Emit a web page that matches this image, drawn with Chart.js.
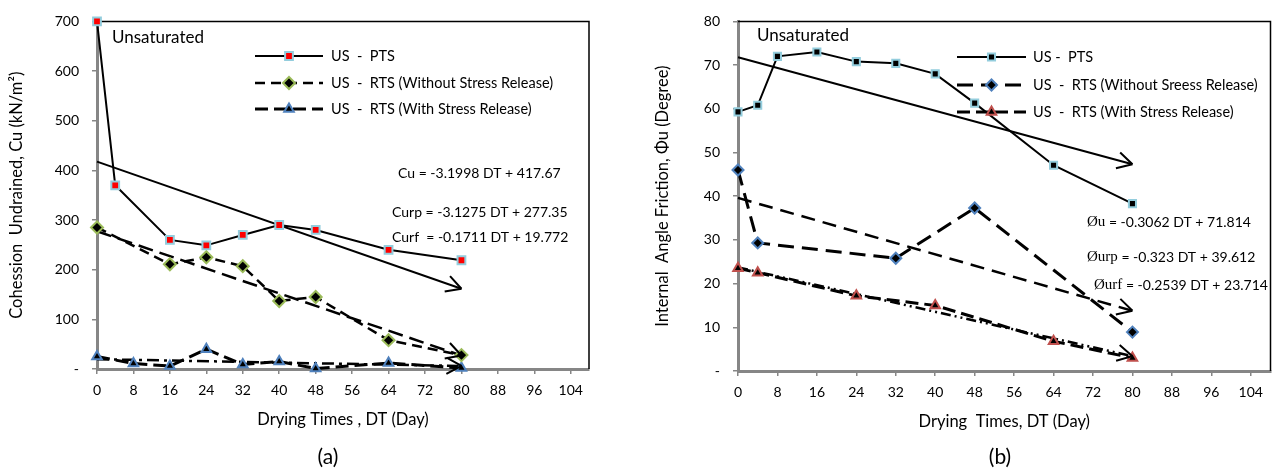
<!DOCTYPE html>
<html>
<head>
<meta charset="utf-8">
<script src="https://cdn.jsdelivr.net/npm/chart.js@4.4.1/dist/chart.umd.min.js"></script>
<style>
  body { margin: 0; background: #fff; }
  canvas { position: absolute; top: 0; }
</style>
</head>
<body>
<canvas id="cohesionChart" width="640" height="474" style="left:0"></canvas>
<canvas id="frictionChart" width="638" height="474" style="left:640px"></canvas>
<script>
"use strict";

// ---- panel (a): cohesion, kN/m2 ----
const cuPtsDays = [0, 4, 16, 24, 32, 40, 48, 64, 80];
const cuPts = [700, 370, 260, 249, 270, 290, 280, 240, 219];
const cuNoReleaseDays = [0, 16, 24, 32, 40, 48, 64, 80];
const cuNoRelease = [285, 211, 225, 207, 137, 145, 58, 28];
const cuReleaseDays = [0, 8, 16, 24, 32, 40, 48, 64, 80];
const cuRelease = [25, 11, 6, 40, 9, 15, 1, 12, 2];

// trend lines (values at DT 0 and DT 80)
const trendDays = [0, 80];
const cuTrendPts = [417.67, 161.69];
const cuTrendNoRelease = [277.35, 27.15];
const cuTrendRelease = [19.77, 6.08];

// ---- panel (b): friction angle, degree ----
const phiPtsDays = [0, 4, 8, 16, 24, 32, 40, 48, 64, 80];
const phiPts = [59.3, 60.8, 72, 73, 70.8, 70.4, 68, 61.3, 47.1, 38.3];
const phiNoReleaseDays = [0, 4, 32, 48, 80];
const phiNoRelease = [46, 29.3, 25.8, 37.3, 8.9];
const phiReleaseDays = [0, 4, 24, 40, 64, 80];
const phiRelease = [23.5, 22.5, 17.2, 15, 6.8, 3];

const phiTrendPts = [71.81, 47.32];
const phiTrendNoRelease = [39.61, 13.77];
const phiTrendRelease = [23.71, 3.40];

const dayTicks = [0, 8, 16, 24, 32, 40, 48, 56, 64, 72, 80, 88, 96, 104];

const FONT = 'Lato, "Open Sans", sans-serif';
const SERIF = '"Liberation Serif", "DejaVu Serif", serif';
const AXIS_GREY = '#868686';

Chart.defaults.font.family = FONT;
Chart.defaults.color = '#000';

function zip(xs, ys) {
    return xs.map((x, i) => ({ x: x, y: ys[i] }));
}

function marker(ctx, ds, x, y) {
    ctx.save();
    ctx.setLineDash([]);
    ctx.fillStyle = ds.pointBackgroundColor;
    ctx.strokeStyle = ds.pointBorderColor;
    ctx.lineWidth = ds.pointBorderWidth;
    Chart.helpers.drawPoint(ctx, {
        pointStyle: ds.pointStyle,
        radius: ds.pointRadius,
        rotation: 0,
        borderWidth: ds.pointBorderWidth
    }, x, y);
    ctx.restore();
}

// plot border, trend arrows, hand placed legend and notes
const panelDecor = {
    id: 'panelDecor',
    beforeDatasetsDraw(chart) {
        const { ctx, chartArea: a } = chart;
        ctx.save();
        ctx.strokeStyle = '#000';
        ctx.lineWidth = 1.5;
        ctx.beginPath();
        ctx.moveTo(a.left, a.top);
        ctx.lineTo(a.right, a.top);
        ctx.lineTo(a.right, a.bottom);
        ctx.stroke();
        ctx.restore();
    },
    afterDatasetsDraw(chart, args, opts) {
        const ctx = chart.ctx;
        chart.data.datasets.forEach((ds, i) => {
            if (!ds.arrow) return;
            const pts = chart.getDatasetMeta(i).data;
            const p1 = pts[pts.length - 1], p0 = pts[pts.length - 2];
            const ang = Math.atan2(p1.y - p0.y, p1.x - p0.x);
            ctx.save();
            ctx.strokeStyle = '#000';
            ctx.lineWidth = 2;
            ctx.beginPath();
            [-1, 1].forEach(s => {
                ctx.moveTo(p1.x - 17 * Math.cos(ang + s * 0.5), p1.y - 17 * Math.sin(ang + s * 0.5));
                ctx.lineTo(p1.x, p1.y);
            });
            ctx.stroke();
            ctx.restore();
        });

        // legend
        const lg = opts.legend;
        chart.data.datasets.filter(ds => !ds.arrow).forEach((ds, k) => {
            const y = lg.rows[k];
            ctx.save();
            ctx.strokeStyle = ds.borderColor;
            ctx.lineWidth = ds.borderWidth;
            ctx.setLineDash(ds.borderDash || []);
            ctx.beginPath();
            ctx.moveTo(lg.x1, y);
            ctx.lineTo(lg.x2, y);
            ctx.stroke();
            ctx.restore();
            marker(ctx, ds, (lg.x1 + lg.x2) / 2, y);
            ctx.save();
            ctx.font = '14.5px ' + FONT;
            ctx.fillStyle = '#000';
            ctx.textBaseline = 'middle';
            ctx.fillText(ds.label, lg.textX, y);
            ctx.restore();
        });

        // notes
        opts.notes.forEach(n => {
            ctx.save();
            ctx.fillStyle = '#000';
            ctx.textBaseline = 'middle';
            let x = n.x;
            const size = n.size || 14;
            const parts = n.parts || [{ t: n.text }];
            if (n.align === 'center') {
                ctx.font = size + 'px ' + FONT;
                x -= ctx.measureText(parts[0].t).width / 2;
            }
            parts.forEach(p => {
                ctx.font = p.serif ? '15px ' + SERIF : size + 'px ' + FONT;
                ctx.fillText(p.t, x, n.y);
                x += ctx.measureText(p.t).width;
            });
            ctx.restore();
        });
    }
};

function seriesStyle(label, dash, width, shape, fill, edge, radius) {
    return {
        label: label,
        borderColor: '#000',
        borderWidth: width,
        borderDash: dash,
        pointStyle: shape,
        pointRadius: radius,
        pointBackgroundColor: fill,
        pointBorderColor: edge,
        pointBorderWidth: 2,
        tension: 0,
        clip: false
    };
}

function trendStyle(dash, width) {
    return {
        arrow: true,
        borderColor: '#000',
        borderWidth: width,
        borderDash: dash,
        pointRadius: 0,
        tension: 0,
        clip: false
    };
}

function makeChart(id, datasets, yMax, yStep, yTitle, xTitle, box, decor) {
    return new Chart(document.getElementById(id), {
        type: 'line',
        data: { datasets: datasets },
        plugins: [panelDecor],
        options: {
            responsive: false,
            animation: false,
            events: [],
            layout: {
                padding: { left: box.padLeft, top: box.padTop, right: box.padRight, bottom: box.padBottom }
            },
            plugins: {
                legend: { display: false },
                tooltip: { enabled: false },
                panelDecor: decor
            },
            scales: {
                x: {
                    type: 'linear',
                    min: 0,
                    max: 108,
                    afterBuildTicks: scale => { scale.ticks = dayTicks.map(v => ({ value: v })); },
                    afterFit: scale => { scale.height = box.xHeight; },
                    ticks: { padding: 8, font: { size: 14 }, color: '#000', maxRotation: 0 },
                    grid: { drawOnChartArea: false, tickLength: 5, color: AXIS_GREY, lineWidth: 1.5 },
                    border: { color: AXIS_GREY, width: 3 },
                    title: { display: true, text: xTitle, font: { size: 16.5 }, padding: 0, color: '#000' }
                },
                y: {
                    min: 0,
                    max: yMax,
                    afterFit: scale => { scale.width = box.yWidth; },
                    ticks: {
                        stepSize: yStep,
                        padding: 13,
                        font: { size: 14 },
                        color: '#000',
                        callback: v => (v === 0 ? '-' : v)
                    },
                    grid: { drawOnChartArea: false, tickLength: 5, color: AXIS_GREY, lineWidth: 1.5 },
                    border: { color: AXIS_GREY, width: 3 },
                    title: { display: true, text: yTitle, font: { size: 16.5 }, padding: 0, color: '#000' }
                }
            }
        }
    });
}

makeChart('cohesionChart', [
    Object.assign(seriesStyle('US  -  PTS', [], 2, 'rect', '#ff0000', '#93cddd', 5.5), { data: zip(cuPtsDays, cuPts) }),
    Object.assign(seriesStyle('US  -  RTS (Without Stress Release)', [10, 6], 2.5, 'rectRot', '#000', '#9bbb59', 6), { data: zip(cuNoReleaseDays, cuNoRelease) }),
    Object.assign(seriesStyle('US  -  RTS (With Stress Release)', [13, 6], 3, 'triangle', '#000', '#4f81bd', 5.5), { data: zip(cuReleaseDays, cuRelease) }),
    Object.assign(trendStyle([], 2), { data: zip(trendDays, cuTrendPts) }),
    Object.assign(trendStyle([15, 7], 2.5), { data: zip(trendDays, cuTrendNoRelease) }),
    Object.assign(trendStyle([12, 5, 3, 5], 2.5), { data: zip(trendDays, cuTrendRelease) })
], 700, 100, 'Cohession  Undrained, Cu (kN/m\u00b2)', 'Drying Times , DT (Day)',
    { padLeft: 7, padTop: 13, padRight: 51, padBottom: 44, yWidth: 90, xHeight: 61 },
    {
        legend: { x1: 255, x2: 323, textX: 331, rows: [56, 83, 109] },
        notes: [
            { x: 112, y: 38, text: 'Unsaturated', size: 17 },
            { x: 398, y: 173, text: 'Cu = -3.1998 DT + 417.67' },
            { x: 392, y: 212, text: 'Curp = -3.1275 DT + 277.35' },
            { x: 392, y: 237, text: 'Curf  = -0.1711 DT + 19.772' },
            { x: 328, y: 457, text: '(a)', size: 21, align: 'center' }
        ]
    });

makeChart('frictionChart', [
    Object.assign(seriesStyle('US -  PTS', [], 2, 'rect', '#000', '#93cddd', 5), { data: zip(phiPtsDays, phiPts) }),
    Object.assign(seriesStyle('US  -  RTS (Without Sreess Release)', [16, 8], 3, 'rectRot', '#000', '#4f81bd', 5.5), { data: zip(phiNoReleaseDays, phiNoRelease) }),
    Object.assign(seriesStyle('US  -  RTS (With Stress Release)', [13, 6], 3, 'triangle', '#000', '#c0504d', 5.5), { data: zip(phiReleaseDays, phiRelease) }),
    Object.assign(trendStyle([], 2), { data: zip(trendDays, phiTrendPts) }),
    Object.assign(trendStyle([14, 8], 2.5), { data: zip(trendDays, phiTrendNoRelease) }),
    Object.assign(trendStyle([10, 4, 2, 4, 2, 4], 2.5), { data: zip(trendDays, phiTrendRelease) })
], 80, 10, 'Internal  Angle Friction, \u03a6u (Degree)', 'Drying  Times, DT (Day)',
    { padLeft: 13, padTop: 12, padRight: 4, padBottom: 42, yWidth: 85, xHeight: 61 },
    {
        legend: { x1: 317, x2: 386, textX: 393, rows: [57, 85, 112] },
        notes: [
            { x: 117, y: 36, text: 'Unsaturated', size: 17 },
            { x: 447, y: 222, size: 14, parts: [{ t: '\u00d8u', serif: true }, { t: ' = -0.3062 DT + 71.814' }] },
            { x: 447, y: 257, size: 14, parts: [{ t: '\u00d8urp', serif: true }, { t: ' = -0.323 DT + 39.612' }] },
            { x: 454, y: 285, size: 14, parts: [{ t: '\u00d8urf', serif: true }, { t: ' = -0.2539 DT + 23.714' }] },
            { x: 360, y: 457, text: '(b)', size: 21, align: 'center' }
        ]
    });
</script>
</body>
</html>
